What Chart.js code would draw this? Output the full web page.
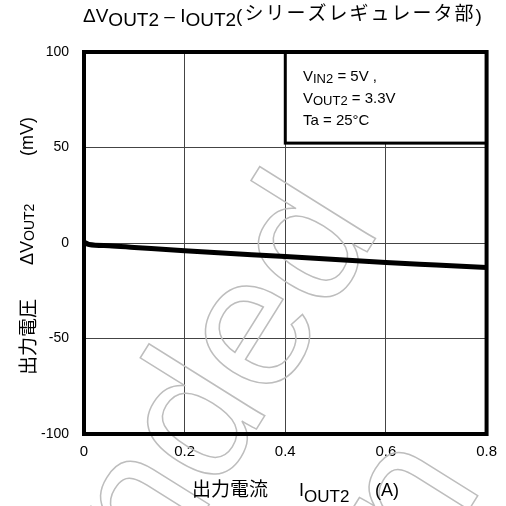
<!DOCTYPE html>
<html>
<head>
<meta charset="utf-8">
<script src="https://cdn.jsdelivr.net/npm/chart.js@4/dist/chart.umd.min.js"></script>
<style>
  body { margin: 0; background: #fff; }
  #wrap { width: 506px; height: 506px; }
</style>
</head>
<body>
<div id="wrap"><canvas id="chart"></canvas></div>
<script>
// data
const current = [0, 0.01, 0.05, 0.1, 0.2, 0.3, 0.4, 0.5, 0.6, 0.7, 0.8];
const deltaV = [0.5, -0.8, -1.4, -2.3, -4.1, -5.6, -7.1, -8.7, -10.2, -11.5, -12.8];
const xTicks = [0, 0.2, 0.4, 0.6, 0.8];
const yTicks = [-100, -50, 0, 50, 100];
const conditions = [
  [['V', 0], ['IN2', 1], [' = 5V ,', 0]],
  [['V', 0], ['OUT2', 1], [' = 3.3V', 0]],
  [['Ta = 25°C', 0]]
];

const latin = '"Liberation Sans", Arial, sans-serif';
const jp = '"Noto Sans CJK JP", sans-serif';

const points = current.map((c, i) => ({ x: c, y: deltaV[i] }));

// draw a run of [text, isSub] pieces starting at x, returns the end x
function drawRun(ctx, parts, x, y, size, subSize, subDrop) {
  parts.forEach(([t, sub]) => {
    ctx.font = (sub ? subSize : size) + 'px ' + latin;
    ctx.fillText(t, x, y + (sub ? subDrop : 0));
    x += ctx.measureText(t).width;
  });
  return x;
}

const decor = {
  id: 'decor',
  beforeDatasetsDraw(chart) {
    const ctx = chart.ctx;
    // watermark
    ctx.save();
    ctx.translate(382, 228);
    ctx.rotate(-58 * Math.PI / 180);
    ctx.font = '188px ' + latin;
    ctx.textAlign = 'right';
    ctx.strokeStyle = '#bdbdbd';
    ctx.lineWidth = 1.5;
    ctx.strokeText('Recommended', 0, 0);
    ctx.strokeText('Design', -164, 223);
    ctx.restore();
  },
  afterDatasetsDraw(chart) {
    const ctx = chart.ctx;
    const a = chart.chartArea;
    const xs = chart.scales.x, ys = chart.scales.y;
    // condition box
    const bx = xs.getPixelForValue(0.4), by = ys.getPixelForValue(100);
    const bx2 = xs.getPixelForValue(0.8), by2 = ys.getPixelForValue(52.3);
    ctx.save();
    ctx.fillStyle = '#fff';
    ctx.fillRect(bx, by, bx2 - bx, by2 - by);
    ctx.strokeStyle = '#000';
    ctx.lineWidth = 3;
    ctx.strokeRect(bx, by, bx2 - bx, by2 - by);
    ctx.fillStyle = '#000';
    ctx.textBaseline = 'alphabetic';
    conditions.forEach((line, i) => {
      drawRun(ctx, line, 303, 81 + i * 22, 15, 13, 2);
    });
    // frame
    ctx.lineWidth = 4;
    ctx.strokeRect(a.left, a.top, a.right - a.left, a.bottom - a.top);
    ctx.restore();
  },
  afterDraw(chart) {
    const ctx = chart.ctx;
    ctx.save();
    ctx.fillStyle = '#000';
    ctx.textBaseline = 'alphabetic';
    // title
    let x = drawRun(ctx, [['ΔV', 0], ['OUT2', 1], [' – I', 0], ['OUT2', 1], ['(', 0]], 83, 22, 19, 19, 4);
    ctx.font = '19px ' + jp;
    x += 2;
    for (const ch of 'シリーズレギュレータ部') {
      ctx.fillText(ch, x, 20);
      x += 21;
    }
    ctx.font = '19px ' + latin;
    ctx.fillText(')', x, 22);
    // x axis title
    ctx.font = '19px ' + jp;
    ctx.fillText('出力電流', 192, 496);
    drawRun(ctx, [['I', 0], ['OUT2', 1]], 299, 496, 18, 17, 6);
    ctx.font = '18px ' + latin;
    ctx.fillText('(A)', 375, 496);
    // y axis title
    ctx.translate(28, 244);
    ctx.rotate(-Math.PI / 2);
    ctx.textBaseline = 'middle';
    ctx.font = '19px ' + jp;
    ctx.fillText('出力電圧', -131, 0);
    drawRun(ctx, [['ΔV', 0], ['OUT2', 1]], -21, 0, 18, 14, 2);
    ctx.font = '18px ' + latin;
    ctx.fillText('(mV)', 88, 0);
    ctx.restore();
  }
};

new Chart(document.getElementById('chart'), {
  type: 'line',
  data: {
    datasets: [{
      data: points,
      borderColor: '#000',
      borderWidth: 5,
      pointRadius: 0,
      cubicInterpolationMode: 'monotone',
      fill: false
    }]
  },
  options: {
    responsive: true,
    maintainAspectRatio: false,
    animation: false,
    events: [],
    layout: { padding: { top: 52, right: 16, bottom: 42, left: 0 } },
    plugins: { legend: { display: false }, tooltip: { enabled: false } },
    scales: {
      x: {
        type: 'linear',
        min: 0, max: 0.8,
        afterFit: s => { s.height = 30; },
        afterBuildTicks: s => { s.ticks = xTicks.map(v => ({ value: v })); },
        ticks: {
          padding: 9, color: '#000',
          font: { family: latin, size: 15 },
          callback: v => String(v)
        },
        grid: { color: '#444', lineWidth: 1, drawTicks: false },
        border: { display: false }
      },
      y: {
        min: -100, max: 100,
        afterFit: s => { s.width = 84; },
        afterBuildTicks: s => { s.ticks = yTicks.map(v => ({ value: v })); },
        ticks: {
          padding: 15, color: '#000',
          font: { family: latin, size: 14 },
          callback: v => String(v)
        },
        grid: { color: '#444', lineWidth: 1, drawTicks: false },
        border: { display: false }
      }
    }
  },
  plugins: [decor]
});
</script>
</body>
</html>
